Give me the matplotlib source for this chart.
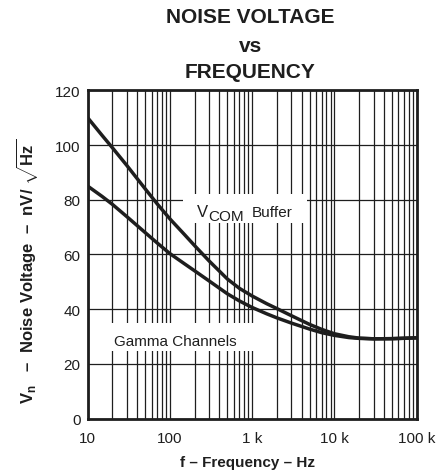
import matplotlib
matplotlib.use("Agg")
from matplotlib import pyplot as plt
from matplotlib.patches import Rectangle
from matplotlib.ticker import FixedLocator, LogLocator, NullFormatter

plt.rcParams['font.family'] = ['Liberation Sans', 'DejaVu Sans']
plt.rcParams['mathtext.fontset'] = 'custom'
plt.rcParams['mathtext.rm'] = 'Liberation Sans'
plt.rcParams['mathtext.bf'] = 'Liberation Sans:bold'
plt.rcParams['mathtext.it'] = 'Liberation Sans'

INK = '#1e1e1e'

# frequency (Hz) and noise voltage (nV/sqrt(Hz))
freq = [10, 15, 20, 30, 50, 70, 100, 150, 200, 300, 500, 700, 1000, 1500, 2000,
        3000, 5000, 7000, 10000, 15000, 20000, 30000, 50000, 100000]
vcom_nv = [110, 103.5, 99, 92.5, 84, 78.5, 73, 67.3, 63.2, 57.6, 51, 47.6, 44.8, 42.0, 40.2,
           37.6, 34.4, 32.6, 31.0, 29.9, 29.4, 29.15, 29.2, 29.5]
gamma_nv = [85, 81.2, 78.3, 73.8, 68, 64.2, 60.3, 56.6, 54, 50.3, 45.6, 43.0, 40.6, 38.3, 36.8,
            34.9, 32.7, 31.4, 30.4, 29.6, 29.3, 29.15, 29.2, 29.5]

xticks = [10, 100, 1000, 10000, 100000]
xtick_labels = ["10", "100", "1 k", "10 k", "100 k"]
yticks = [0, 20, 40, 60, 80, 100, 120]

fig = plt.figure(figsize=(4.45, 4.77), dpi=100)
ax = fig.add_axes([0.197, 0.1205, 0.7393, 0.688])

ax.plot(freq, vcom_nv, color=INK, linewidth=2.5, zorder=4, solid_joinstyle='round')
ax.plot(freq, gamma_nv, color=INK, linewidth=2.5, zorder=4, solid_joinstyle='round')

ax.set_xscale('log')
ax.set_xlim(10, 100000)
ax.set_ylim(0, 120)
ax.xaxis.set_major_locator(FixedLocator(xticks))
ax.set_xticklabels(xtick_labels)
ax.xaxis.set_minor_locator(LogLocator(base=10, subs=range(2, 10)))
ax.xaxis.set_minor_formatter(NullFormatter())
ax.set_yticks(yticks)

ax.grid(True, which='both', axis='x', color=INK, linewidth=0.9)
ax.grid(True, which='major', axis='y', color=INK, linewidth=0.9)
ax.tick_params(which='both', length=0, labelsize=11, colors=INK)
ax.tick_params(axis='x', pad=9)
ax.tick_params(axis='y', pad=5)
for s in ax.spines.values():
    s.set_linewidth(2)
    s.set_color(INK)
    s.set_zorder(5)

# white label backgrounds that cut the grid
ax.add_patch(Rectangle((0.2897, 0.5957), 0.377, 0.0884, transform=ax.transAxes,
                       facecolor='white', edgecolor='none', zorder=2.5))
ax.add_patch(Rectangle((0.04, 0.2048), 0.475, 0.0852, transform=ax.transAxes,
                       facecolor='white', edgecolor='none', zorder=2.5))

ax.text(0.3331, 0.616, 'V', transform=ax.transAxes, fontsize=12, color=INK, va='baseline', zorder=3)
ax.text(0.3675, 0.6057, 'COM', transform=ax.transAxes, fontsize=11, color=INK, va='baseline', zorder=3)
ax.text(0.4995, 0.616, 'Buffer', transform=ax.transAxes, fontsize=11, color=INK, va='baseline', zorder=3)
ax.text(0.266, 0.2249, 'Gamma Channels', transform=ax.transAxes, fontsize=11, color=INK,
        ha='center', va='baseline', zorder=3)

fig.text(0.557, 0.0216, 'f – Frequency – Hz', ha='center', va='baseline', fontsize=11,
         fontweight='bold', color=INK)
fig.text(0.060, 0.432,
         r'$\mathbf{V_n}$   –  Noise Voltage  –  nV/ $\sqrt{\mathbf{Hz}^{\,}_{\,}}$',
         rotation=90, ha='center', va='center', fontsize=12, fontweight='bold', color=INK)

fig.text(0.562, 0.951, 'NOISE VOLTAGE', ha='center', va='baseline', fontsize=15, fontweight='bold', color=INK)
fig.text(0.562, 0.892, 'vs', ha='center', va='baseline', fontsize=15, fontweight='bold', color=INK)
fig.text(0.562, 0.836, 'FREQUENCY', ha='center', va='baseline', fontsize=15, fontweight='bold', color=INK)

fig.savefig('out.png', dpi=100)
